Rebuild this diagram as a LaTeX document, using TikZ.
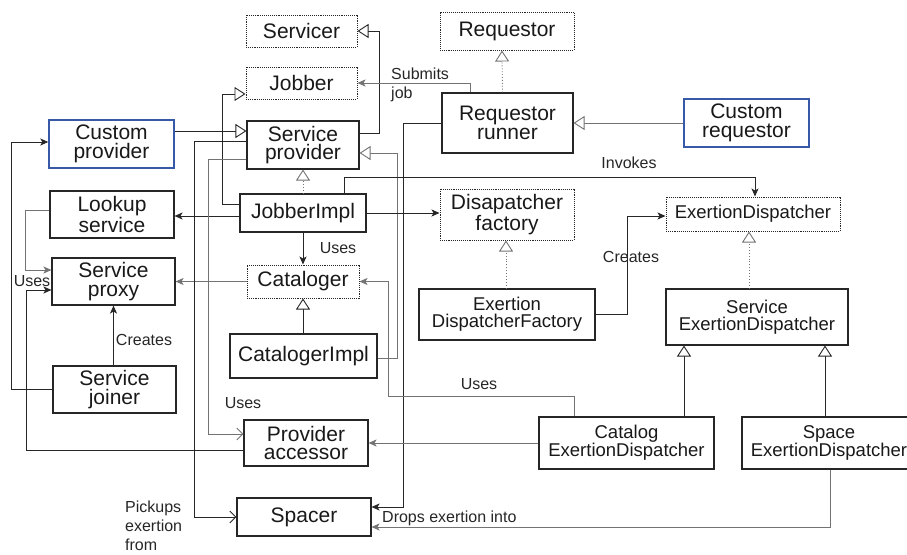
\documentclass[tikz,border=0pt]{standalone}
\usepackage{fontspec}
\setmainfont{Liberation Sans}
\usepackage{tikz}
\usetikzlibrary{arrows.meta,positioning,calc}
\definecolor{provblue}{RGB}{56,88,168}

\begin{document}
\begin{tikzpicture}[x=1pt,y=-1pt,
box/.style={draw=black!85,line width=1.1pt,fill=white,inner sep=0pt,align=center,
  text=black!90,font=\fontsize{21}{18.5}\selectfont},
ibox/.style={box,densely dotted,line width=1pt},
cbox/.style={box,draw=provblue,line width=1.4pt},
edfont/.style={font=\fontsize{18.5}{17}\selectfont},
sz/.style 2 args={minimum width=#1pt,minimum height=#2pt},
lbl/.style={inner sep=0pt,text=black!85,font=\fontsize{16}{19}\selectfont},
link/.style={draw=black!85,line width=0.9pt},
dim/.style={draw=black!55},
arr/.style={link,-{Stealth[length=8pt,width=7pt,inset=2pt]}},
oarr/.style={link,-{Straight Barb[length=6pt,width=12pt]}},
inh/.style={link,-{Triangle[open,length=11pt,width=14pt,fill=white]}},
iinh/.style={inh,dim,dotted}]
\useasboundingbox (0,0) rectangle (907,554);
\clip (0,0) rectangle (907,554);

% classes and interfaces
\node[ibox,sz={111}{32}] (servicer) at (301.5,31) {Servicer};
\node[ibox,sz={111}{32}] (jobber) at (301.5,83) {Jobber};
\node[ibox,sz={134}{38}] (requestor) at (507,31) {Requestor};
\node[box,sz={131}{60}] (reqrunner) at (507.5,123) {Requestor\\runner};
\node[cbox,sz={125}{48}] (custreq) at (746.5,123) {Custom\\requestor};
\node[cbox,sz={125}{48}] (custprov) at (111.5,144) {Custom\\provider};
\node[box,sz={112}{48}] (servprov) at (303,145) {Service\\provider};
\node[box,sz={124}{47}] (lookup) at (112,214.5) {Lookup\\service};
\node[box,sz={126}{38}] (jobberimpl) at (303,213) {JobberImpl};
\node[ibox,sz={134}{51}] (dispfact) at (507,214.5) {Disapatcher\\factory};
\node[ibox,edfont,sz={174}{34}] (exdisp) at (753,214) {ExertionDispatcher};
\node[box,sz={123}{47}] (proxy) at (113.5,281.5) {Service\\proxy};
\node[ibox,sz={112}{33}] (cataloger) at (303,281.5) {Cataloger};
\node[box,edfont,sz={176}{51}] (edfactory) at (507,314.5) {Exertion\\DispatcherFactory};
\node[box,edfont,sz={182}{56}] (sed) at (757,317) {Service\\ExertionDispatcher};
\node[box,sz={147}{44}] (catimpl) at (303.5,356) {CatalogerImpl};
\node[box,sz={123}{47}] (joiner) at (114.5,389.5) {Service\\joiner};
\node[box,sz={124}{46}] (provacc) at (306,443) {Provider\\accessor};
\node[box,edfont,sz={175}{52}] (cated) at (626.5,443) {Catalog\\ExertionDispatcher};
\node[box,edfont,sz={174}{52}] (spaceed) at (829,443) {Space\\ExertionDispatcher};
\node[box,sz={134}{38}] (spacer) at (304,517) {Spacer};

% labels
\node[lbl,anchor=north west,align=left] (submits) at (391,67.5) {Submits\\job};
\node[lbl] (invokes) at (629,163) {Invokes};
\node[lbl] (usesa) at (338,248) {Uses};
\node[lbl] (createsa) at (631,257) {Creates};
\node[lbl] (usesb) at (32,281) {Uses};
\node[lbl] (createsb) at (144,340) {Creates};
\node[lbl] (usesc) at (479,384) {Uses};
\node[lbl] (usesd) at (243,403) {Uses};
\node[lbl,anchor=north west,align=left] (pickups) at (125,501) {Pickups\\exertion\\from};
\node[lbl,anchor=west] (drops) at (382,518) {Drops exertion into};

% inheritance
\draw[inh] ([yshift=12pt]servprov.east) -- ++(20,0) |- (servicer.east);
\draw[inh] ([yshift=9pt]jobberimpl.west) -- ++(-17,0) |- ([yshift=-11pt]jobber.west);
\draw[inh] ([yshift=13pt]custprov.east) -- ([yshift=13pt]custprov.east -| servprov.west);
\draw[iinh] ([xshift=-5pt]reqrunner.north) -- ([xshift=-5pt]requestor.south);
\draw[inh,dim] (custreq.west) -- (reqrunner.east);
\draw[iinh] (jobberimpl.north) -- (servprov.south);
\draw[inh,dim] ([yshift=-2pt]catimpl.east) -- ++(20,0) |- ([yshift=-8pt]servprov.east);
\draw[inh] (catimpl.north -| cataloger.south) -- (cataloger.south);
\draw[iinh] ([xshift=-1pt]edfactory.north) -- ([xshift=-1pt]dispfact.south);
\draw[iinh] ([xshift=-8pt]sed.north) -- ([xshift=-8pt]sed.north |- exdisp.south);
\draw[inh] ([xshift=57.5pt]cated.north) -- ([xshift=57.5pt]cated.north |- sed.south);
\draw[inh] ([xshift=-4pt]spaceed.north) -- ([xshift=-4pt]spaceed.north |- sed.south);

% associations
\draw[arr,dim] ([xshift=-37pt]reqrunner.north) |- (jobber.east);
\draw[arr] (reqrunner.west) -- ++(-38,0) |- ([yshift=10pt]spacer.east);
\draw[arr,dim] ([xshift=1pt]spaceed.south) |- ([yshift=-10pt]spacer.east);
\draw[arr] (jobberimpl.south) -- (cataloger.north);
\draw[arr] ([yshift=-3pt]jobberimpl.west) -- ([yshift=-3pt]jobberimpl.west -| lookup.east);
\draw[arr] (jobberimpl.east) -- (jobberimpl.east -| dispfact.west);
\draw[arr] ([xshift=41pt]jobberimpl.north) -- ++(0,-16) -| ([xshift=2pt]exdisp.north);
\draw[arr] (edfactory.east) -- ++(32,0) |- ([yshift=-2pt]exdisp.west);
\draw[arr,dim] (cataloger.west) -- (cataloger.west -| proxy.east);
\draw[arr,dim] ([yshift=4.5pt]lookup.west) -- ++(-24,0) |- ([yshift=11.5pt]proxy.west);
\draw[arr] (joiner.north -| proxy.south) -- (proxy.south);
\draw[arr] (joiner.west) -- ++(-41,0) |- ([yshift=2pt]custprov.west);
\draw[arr] ([yshift=-7pt]provacc.west) -- ++(-217,0) |- ([yshift=-8.5pt]proxy.west);
\draw[oarr,dim] ([yshift=-14pt]servprov.west) -- ++(-38,0) |- ([yshift=9pt]provacc.west);
\draw[oarr] ([yshift=4pt]servprov.west) -- ++(-52,0) |- (spacer.west);
\draw[arr,dim] ([xshift=-52.5pt]cated.north) -- ++(0,-20) -| ([xshift=29pt]cataloger.east) -- (cataloger.east);
\draw[arr,dim] (cated.west) -- (cated.west -| provacc.east);
\end{tikzpicture}
\end{document}
